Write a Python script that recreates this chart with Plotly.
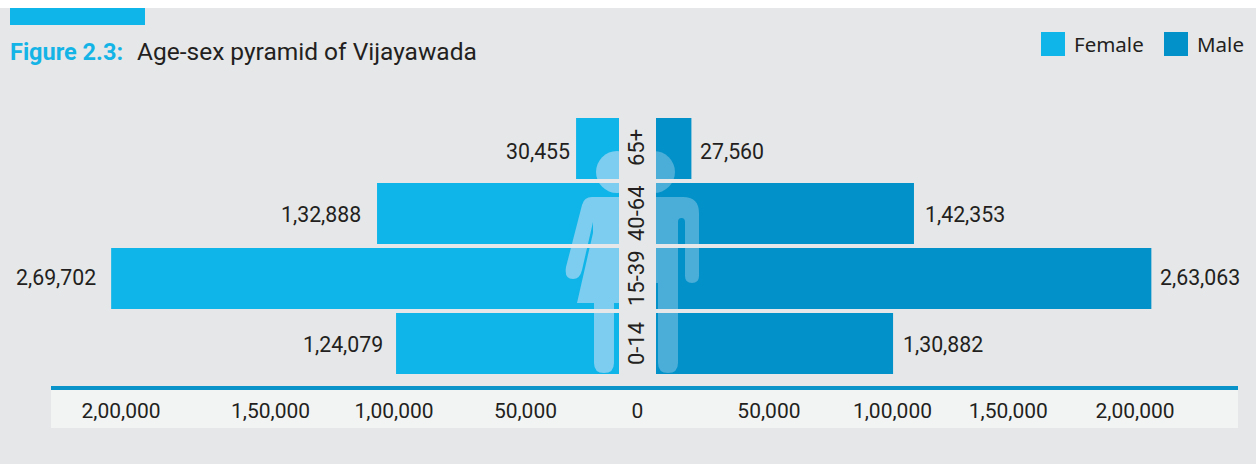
import re
import plotly.graph_objects as go

# Age groups, bottom to top
age_groups = ["0-14", "15-39", "40-64", "65+"]
# Printed figures
female_labels = ["1,24,079", "2,69,702", "1,32,888", "30,455"]
male_labels = ["1,30,882", "2,63,063", "1,42,353", "27,560"]
# Bar lengths as drawn in the picture (the source bars are not strictly proportional to the printed figures)
female_drawn = [118400, 269702, 128500, 22800]
male_drawn = [125900, 263063, 137000, 18800]
# Tick labels and where the picture prints them on the drawn scale (source ticks are unevenly spaced)
tick_text = ["2,00,000", "1,50,000", "1,00,000", "50,000", "0", "50,000", "1,00,000", "1,50,000", "2,00,000"]
tick_at = [-274300, -194900, -129300, -59500, 0, 69800, 135400, 196900, 264200]

W, H = 1256, 464
PX_PER_UNIT = 0.001883
CENTER = 637.5
GAP = 18.5 / PX_PER_UNIT
BG, FEMALE, MALE = "#e6e7e9", "#0fb5e8", "#0291c8"
FEMALE_FIG, MALE_FIG = "#7ccdf0", "#4aaed8"
INK = "#231f20"
FONT = "Roboto, sans-serif"
LEFT, RIGHT = 51, 1238


def px(x):
    return x / W


def py(y):
    return 1 - y / H


def path(d):
    """Turn a path written in picture pixels into paper coordinates."""
    return re.sub(r"([\d.]+),([\d.]+)", lambda m: f"{px(float(m[1])):.5f},{py(float(m[2])):.5f}", d)


def rect(x0, y0, x1, y1, color, layer="above"):
    return dict(type="rect", xref="paper", yref="paper", x0=px(x0), x1=px(x1), y0=py(y0), y1=py(y1),
                fillcolor=color, line_width=0, layer=layer)


def head(cx, cy, r, color):
    return dict(type="circle", xref="paper", yref="paper", x0=px(cx - r), x1=px(cx + r), y0=py(cy + r), y1=py(cy - r),
                fillcolor=color, line_width=0, layer="above")


def shape_path(d, color):
    return dict(type="path", xref="paper", yref="paper", path=path(d), fillcolor=color, line_width=0, layer="above")


def text(x, y, s, size=20, xanchor="left", color=INK, family=FONT, **kw):
    return dict(xref="paper", yref="paper", x=px(x), y=py(y), text=s, showarrow=False, xanchor=xanchor,
                yanchor="middle", font=dict(size=size, color=color, family=family), **kw)


fig = go.Figure()
fig.add_bar(y=age_groups, x=[-v for v in female_drawn], base=-GAP, orientation="h", name="Female",
            marker=dict(color=FEMALE, line_width=0), showlegend=False)
fig.add_bar(y=age_groups, x=male_drawn, base=GAP, orientation="h", name="Male",
            marker=dict(color=MALE, line_width=0), showlegend=False)

female_body = ("M619,197 L592,197 Q584,197 582,205 L566,267 Q564,279 573,279 Q580,279 582,270 L593,222 L593,233 "
               "L577,303 L594,303 L594,363 Q594,373 604,373 Q614,373 614,363 L614,303 L619,303 Z")
male_body = ("M656,197 L683,197 Q699,197 699,213 L699,276 Q699,283 692,283 Q685,283 685,276 L685,222 "
             "Q685,218 681.5,218 Q678,218 678,222 L678,363 Q678,373 668,373 Q658,373 658,363 L658,283 L656,283 Z")

shapes = [
    rect(0, 0, W, 8, "#ffffff", "below"),
    rect(10, 8, 145, 25, FEMALE, "below"),
    rect(LEFT, 389, RIGHT, 428, "#f2f4f4", "below"),
    rect(1041, 32, 1065, 56, FEMALE, "below"),
    rect(1164, 32, 1188, 56, MALE, "below"),
    head(617, 172, 21, FEMALE_FIG),
    head(654, 172, 21, MALE_FIG),
    shape_path(female_body, FEMALE_FIG),
    shape_path(male_body, MALE_FIG),
    # the silhouette only shows on the bars: mask the gaps
    rect(619, 110, 656, 380, BG),
    rect(560, 179, 715, 183, BG),
    rect(560, 244, 715, 248, BG),
    rect(560, 309, 715, 313, BG),
]

annotations = [
    text(8, 52, "<b>Figure 2.3:</b>", size=23.5, color="#14b4e6"),
    text(134.5, 52, "Age-sex pyramid of Vijayawada", size=24.5),
    text(1072, 44, "Female", size=20.5, family="Noto Sans, sans-serif"),
    text(1194.5, 44, "Male", size=20.5, family="Noto Sans, sans-serif"),
]
female_pad = [11, 13, 14, 4]
male_pad = [8, 7, 9, 7]
label_lift = [0, 2, 0, -2]
for i, g in enumerate(age_groups):
    annotations.append(dict(x=0, y=g, xref="x", yref="y", text=g, textangle=-90, showarrow=False, xshift=-1,
                            yshift=[0, 0, 0, 1][i], font=dict(size=22, color=INK, family=FONT)))
    annotations.append(dict(x=-(GAP + female_drawn[i]), y=g, xref="x", yref="y", text=female_labels[i],
                            showarrow=False, xanchor="right", xshift=-female_pad[i], yshift=-1 + label_lift[i],
                            font=dict(size=21.3, color=INK, family=FONT)))
    annotations.append(dict(x=GAP + male_drawn[i], y=g, xref="x", yref="y", text=male_labels[i],
                            showarrow=False, xanchor="left", xshift=male_pad[i], yshift=-1 + label_lift[i],
                            font=dict(size=21.3, color=INK, family=FONT)))

fig.update_layout(
    width=W, height=H, margin=dict(l=0, r=0, t=0, b=0), paper_bgcolor=BG, plot_bgcolor="rgba(0,0,0,0)",
    barmode="overlay", bargap=4 / 65, shapes=shapes, annotations=annotations, showlegend=False,
    xaxis=dict(domain=[px(LEFT), px(RIGHT)],
               range=[(LEFT - CENTER) / PX_PER_UNIT, (RIGHT - CENTER) / PX_PER_UNIT],
               anchor="free", position=py(388.3), showgrid=False, zeroline=False, showline=True,
               linecolor="#0a93c9", linewidth=4, ticks="", tickmode="array", tickvals=tick_at, ticktext=tick_text,
               tickangle=0, ticklabelstandoff=2, tickfont=dict(size=21, color=INK, family=FONT)),
    yaxis=dict(domain=[py(376), py(116)], type="category", categoryorder="array", categoryarray=age_groups,
               range=[-0.5, 3.5], visible=False),
)

fig.write_html("out.html", config=dict(displayModeBar=False, responsive=False),
               post_script="document.body.style.margin='0';document.body.style.overflow='hidden';")
